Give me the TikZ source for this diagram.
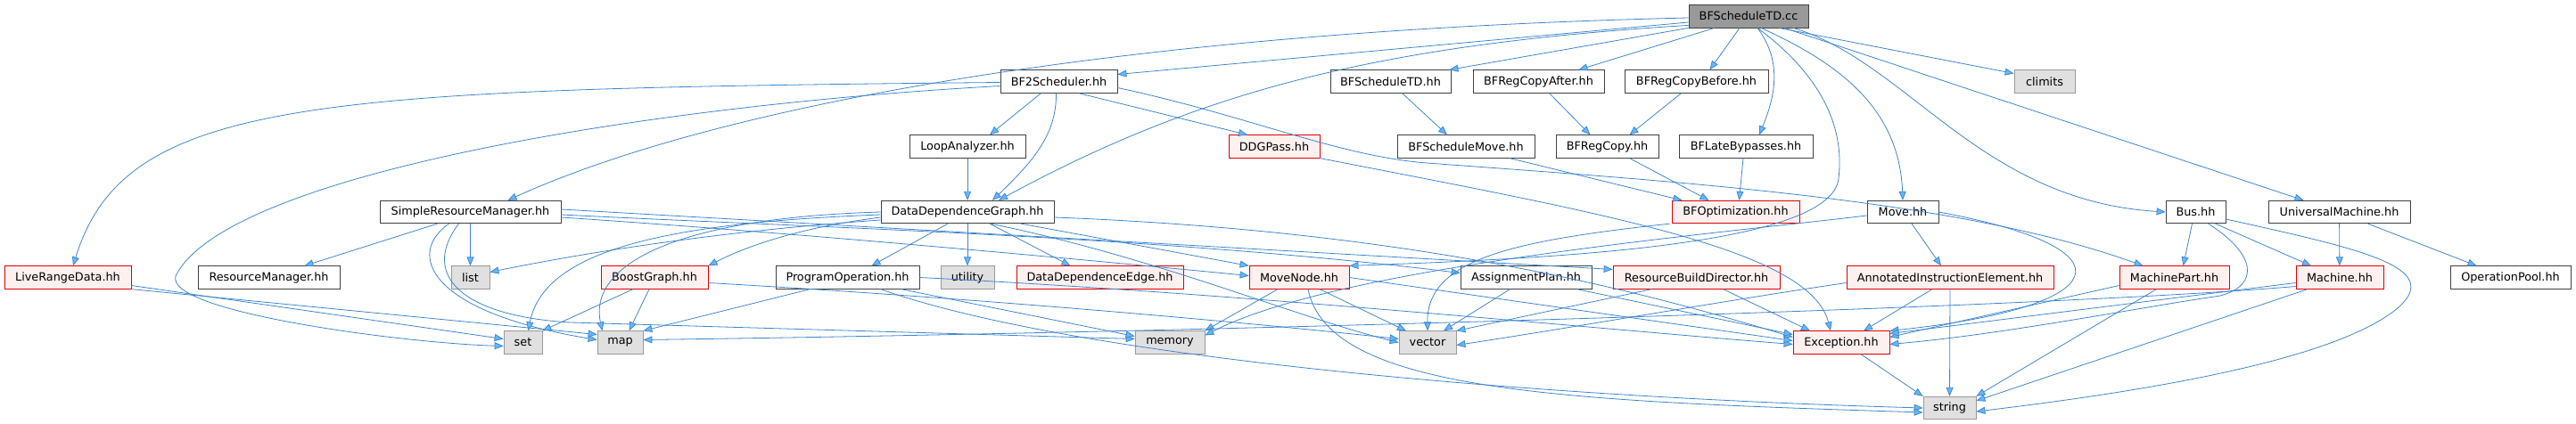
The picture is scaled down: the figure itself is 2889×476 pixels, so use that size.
\documentclass[tikz,border=0pt]{standalone}
\usepackage{fontspec}
\setmainfont{DejaVu Sans}
\usetikzlibrary{arrows.meta}
\definecolor{edgecol}{HTML}{3F86CC}
\definecolor{arrowfill}{HTML}{63B8FF}
\definecolor{ndborder}{HTML}{404040}
\definecolor{rootfill}{HTML}{999999}
\definecolor{sysfill}{HTML}{E0E0E0}
\definecolor{sysborder}{HTML}{999999}
\definecolor{redfill}{HTML}{FFF0F0}
\definecolor{redborder}{HTML}{E00000}
\newcommand\dvs{\fontsize{12.8}{15}\selectfont}
\tikzset{
  nd/.style={draw=ndborder, fill=white, line width=0.75pt, minimum height=25.5pt, inner sep=0pt, font=\dvs, text=black},
  rootn/.style={nd, fill=rootfill, draw=ndborder},
  sysn/.style={nd, fill=sysfill, draw=sysborder},
  redn/.style={nd, fill=redfill, draw=redborder},
  dep/.style={draw=edgecol, line width=0.8pt, -{Triangle[length=10pt,width=8pt,fill=arrowfill]}}
}
\begin{document}
\begin{tikzpicture}[x=1pt,y=-1pt]
\useasboundingbox (0,0) rectangle (2889,476);
% row 0
\node[rootn, minimum width=134pt, minimum height=26pt] (root) at (1961,18) {BFScheduleTD.cc};
% row 1
\node[nd, minimum width=131pt] (bf2) at (1187.5,91.5) {BF2Scheduler.hh};
\node[nd, minimum width=135pt] (bfstdh) at (1559.5,91.5) {BFScheduleTD.hh};
\node[nd, minimum width=147pt] (rcafter) at (1725.5,91.5) {BFRegCopyAfter.hh};
\node[nd, minimum width=161pt] (rcbefore) at (1902.5,91.5) {BFRegCopyBefore.hh};
\node[sysn, minimum width=68pt] (climits) at (2293,91.5) {climits};
% row 2
\node[nd, minimum width=130pt] (loop) at (1085,164.5) {LoopAnalyzer.hh};
\node[redn, minimum width=102pt] (ddgpass) at (1429,164.5) {DDGPass.hh};
\node[nd, minimum width=154pt] (bfsm) at (1644,164.5) {BFScheduleMove.hh};
\node[nd, minimum width=115pt] (regcopy) at (1802.5,164.5) {BFRegCopy.hh};
\node[nd, minimum width=150pt] (late) at (1958,164.5) {BFLateBypasses.hh};
% row 3
\node[nd, minimum width=203pt] (srm) at (527.5,238) {SimpleResourceManager.hh};
\node[nd, minimum width=194pt] (ddg) at (1085,238) {DataDependenceGraph.hh};
\node[redn, minimum width=143pt] (bfopt) at (1946.5,238) {BFOptimization.hh};
\node[nd, minimum width=80pt] (move) at (2134,238) {Move.hh};
\node[nd, minimum width=67pt] (bus) at (2462.5,238) {Bus.hh};
\node[nd, minimum width=159pt] (um) at (2623.5,238) {UniversalMachine.hh};
% row 4
\node[redn, minimum width=142pt] (lrd) at (76,311.5) {LiveRangeData.hh};
\node[nd, minimum width=159pt] (rm) at (301.5,311.5) {ResourceManager.hh};
\node[sysn, minimum width=43pt] (list) at (527.5,311.5) {list};
\node[redn, minimum width=120pt] (boost) at (734,311.5) {BoostGraph.hh};
\node[nd, minimum width=161pt] (progop) at (950.5,311.5) {ProgramOperation.hh};
\node[sysn, minimum width=60pt] (utility) at (1085,311.5) {utility};
\node[redn, minimum width=187pt] (dde) at (1233.5,311.5) {DataDependenceEdge.hh};
\node[redn, minimum width=112pt] (movenode) at (1457,311.5) {MoveNode.hh};
\node[nd, minimum width=147pt] (aplan) at (1711.5,311.5) {AssignmentPlan.hh};
\node[redn, minimum width=187pt] (rbd) at (1902.5,311.5) {ResourceBuildDirector.hh};
\node[redn, minimum width=232pt] (aie) at (2187,311.5) {AnnotatedInstructionElement.hh};
\node[redn, minimum width=123pt] (mpart) at (2438.5,311.5) {MachinePart.hh};
\node[redn, minimum width=98pt] (machine) at (2624,311.5) {Machine.hh};
\node[nd, minimum width=135pt] (oppool) at (2815.5,311.5) {OperationPool.hh};
% row 5
\node[sysn, minimum width=43pt] (set) at (586.5,384.5) {set};
\node[sysn, minimum width=51pt] (map) at (695.5,384.5) {map};
\node[sysn, minimum width=78pt] (memory) at (1312,384.5) {memory};
\node[sysn, minimum width=64pt] (vector) at (1601,384.5) {vector};
\node[redn, minimum width=108pt] (exception) at (2065,384.5) {Exception.hh};
% row 6
\node[sysn, minimum width=59pt] (string) at (2186.5,458) {string};

% ---- edges from root
\draw[dep] ([yshift=-7pt]root.west) -- ([yshift=8pt]bf2.east);
\draw[dep] (root.south west) -- ([xshift=-2pt]bfstdh.north east);
\draw[dep] ([xshift=-38pt]root.south) -- ([xshift=45pt]rcafter.north);
\draw[dep] ([xshift=-10pt]root.south) -- ([xshift=15pt]rcbefore.north);
\draw[dep] ([xshift=34pt]root.south) -- ([yshift=9pt]climits.west);
\draw[dep] ([xshift=10pt]root.south) .. controls (2000,70) and (1990,110) .. ([xshift=15pt]late.north);
\draw[dep] ([xshift=14pt]root.south) .. controls (2060,70) and (2130,120) .. (move.north);
\draw[dep] ([xshift=50pt]root.south) .. controls (2140,70) and (2220,225) .. (bus.west);
\draw[dep] ([xshift=40pt]root.south) -- ([xshift=-40pt]um.north);
\draw[dep] ([yshift=3pt]root.south west) .. controls (1550,50) and (1350,100) .. ([xshift=35pt]ddg.north);
\draw[dep] ([yshift=-2pt]root.west) .. controls (1250,35) and (800,120) .. ([xshift=42pt]srm.north);
\draw[dep] ([xshift=10pt]root.south) .. controls (2050,90) and (2068,150) .. (2062,200) .. controls (2055,275) and (1750,290) .. (movenode.north east);

% ---- BF2Scheduler
\draw[dep] ([xshift=-20pt]bf2.south) -- ([xshift=25pt]loop.north);
\draw[dep] ([xshift=-3pt]bf2.south) .. controls (1185,150) and (1160,180) .. ([xshift=28pt]ddg.north);
\draw[dep] ([xshift=22pt]bf2.south) -- ([xshift=-30pt]ddgpass.north);
\draw[dep] ([yshift=-7pt]bf2.east) .. controls (1400,130) and (1500,175) .. (1600,183) .. controls (1900,205) and (2200,225) .. ([xshift=-35pt]mpart.north);
\draw[dep] ([yshift=-1pt]bf2.west) .. controls (350,100) and (140,110) .. ([xshift=6pt]lrd.north);
\draw[dep] ([yshift=-5pt]bf2.west) .. controls (700,120) and (250,200) .. (197,310) .. controls (185,350) and (450,385) .. ([yshift=-4pt]set.west);

% ---- second level
\draw[dep] ([xshift=13pt]bfstdh.south) -- ([xshift=-21pt]bfsm.north);
\draw[dep] ([xshift=12pt]rcafter.south) -- ([xshift=-19pt]regcopy.north);
\draw[dep] ([xshift=-17pt]rcbefore.south) -- ([xshift=25pt]regcopy.north);
\draw[dep] ([xshift=49pt]bfsm.south) -- ([xshift=-60pt]bfopt.north);
\draw[dep] ([xshift=25pt]regcopy.south) -- ([xshift=-30pt]bfopt.north);
\draw[dep] ([xshift=-3pt]late.south) -- ([xshift=4pt]bfopt.north);
\draw[dep] (loop) -- (ddg);
\draw[dep] (ddgpass.south east) .. controls (1800,240) and (2030,280) .. ([xshift=-12pt]exception.north);

% ---- SimpleResourceManager
\draw[dep] ([xshift=-37pt]srm.south) -- ([xshift=40pt]rm.north);
\draw[dep] (srm.south) -- (list.north);
\draw[dep] ([xshift=-24pt]srm.south) .. controls (455,285) and (480,350) .. ([yshift=3pt]map.west);
\draw[dep] ([xshift=-13pt]srm.south) .. controls (470,310) and (520,355) .. (640,362) -- ([yshift=4pt]memory.west);
\draw[dep] ([yshift=-3pt]srm.east) .. controls (900,255) and (1300,265) .. ([yshift=5pt]aplan.west);
\draw[dep] ([yshift=3pt]srm.east) -- ([yshift=9pt]rbd.west);
\draw[dep] ([yshift=-6pt]srm.east) .. controls (900,262) and (1200,290) .. ([yshift=2pt]movenode.west);

% ---- DataDependenceGraph
\draw[dep] ([xshift=-22pt]ddg.south) -- ([xshift=27pt]progop.north);
\draw[dep] (ddg) -- (utility);
\draw[dep] ([xshift=25pt]ddg.south) -- ([xshift=-33pt]dde.north);
\draw[dep] ([xshift=60pt]ddg.south) -- (movenode.north west);
\draw[dep] ([xshift=26pt]ddg.south) .. controls (1300,290) and (1450,355) .. (vector.west);
\draw[dep] ([yshift=-6pt]ddg.west) .. controls (900,255) and (840,275) .. (boost.north east);
\draw[dep] ([yshift=-9pt]ddg.west) .. controls (800,260) and (650,285) .. ([yshift=6pt]list.east);
\draw[dep] ([yshift=-3pt]ddg.west) .. controls (750,250) and (610,280) .. ([xshift=6pt]set.north);
\draw[dep] (ddg.west) .. controls (750,245) and (660,300) .. ([xshift=-20pt]map.north);
\draw[dep] ([yshift=-6pt]ddg.east) .. controls (1600,260) and (1850,330) .. ([yshift=6pt]exception.west);

% ---- LiveRangeData, BoostGraph, ProgramOperation
\draw[dep] ([yshift=-9pt]lrd.east) -- ([yshift=4pt]set.west);
\draw[dep] (lrd.south east) -- ([yshift=9pt]map.west);
\draw[dep] ([xshift=-24pt]boost.south) -- (set.north east);
\draw[dep] ([xshift=-6pt]boost.south) -- ([xshift=10pt]map.north);
\draw[dep] ([yshift=-6pt]boost.east) .. controls (1100,335) and (1400,362) .. ([yshift=4pt]vector.west);
\draw[dep] ([xshift=-42pt]progop.south) -- (map.north east);
\draw[dep] ([xshift=60pt]progop.south) -- ([yshift=7pt]memory.west);
\draw[dep] ([xshift=37pt]progop.south) .. controls (1200,400) and (1700,445) .. (string.west);
\draw[dep] (progop.east) .. controls (1400,330) and (1800,370) .. ([yshift=-2pt]exception.west);

% ---- MoveNode, AssignmentPlan, ResourceBuildDirector, BFOptimization
\draw[dep] ([xshift=-24pt]movenode.south) -- (memory.north east);
\draw[dep] ([xshift=23pt]movenode.south) -- ([xshift=-24pt]vector.north);
\draw[dep] ([xshift=10pt]movenode.south) .. controls (1490,440) and (1750,450) .. ([yshift=-5pt]string.west);
\draw[dep] (movenode.east) -- ([yshift=2pt]exception.west);
\draw[dep] ([xshift=-18pt]aplan.south) -- ([xshift=18pt]vector.north);
\draw[dep] ([xshift=57pt]aplan.south) -- ([yshift=9pt]exception.west);
\draw[dep] ([xshift=-50pt]rbd.south) -- (vector.north east);
\draw[dep] ([xshift=30pt]rbd.south) -- ([xshift=-35pt]exception.north);
\draw[dep] ([xshift=-2pt]bfopt.south west) .. controls (1700,270) and (1600,290) .. (vector.north);

% ---- Move, AnnotatedInstructionElement
\draw[dep] ([xshift=10pt]move.south) -- ([xshift=-10pt]aie.north);
\draw[dep] (move.east) .. controls (2400,280) and (2370,345) .. (exception.north east);
\draw[dep] ([yshift=-4pt]move.west) .. controls (1900,265) and (1500,300) .. ([yshift=8pt]memory.east);
\draw[dep] ([xshift=-20pt]aie.south) -- ([xshift=25pt]exception.north);
\draw[dep] (aie.south) -- (string.north);
\draw[dep] ([yshift=-6pt]aie.west) .. controls (1950,335) and (1750,370) .. ([yshift=-3pt]vector.east);

% ---- MachinePart, Bus, UniversalMachine, Machine
\draw[dep] ([yshift=-9pt]mpart.west) -- ([yshift=6pt]exception.east);
\draw[dep] ([xshift=-20pt]mpart.south) -- (string.north east);
\draw[dep] ([xshift=-4pt]bus.south) -- ([xshift=10pt]mpart.north);
\draw[dep] ([xshift=22pt]bus.south) -- ([xshift=-32pt]machine.north);
\draw[dep] ([xshift=14pt]bus.south) .. controls (2530,285) and (2535,320) .. (2490,332) .. controls (2400,345) and (2250,375) .. ([yshift=-2pt]exception.east);
\draw[dep] ([yshift=-8pt]bus.east) .. controls (2650,280) and (2740,300) .. (2690,345) .. controls (2620,405) and (2400,440) .. ([yshift=-4pt]string.east);
\draw[dep] (um) -- (machine);
\draw[dep] ([xshift=32pt]um.south) -- ([xshift=-38pt]oppool.north);
\draw[dep] ([yshift=-6pt]machine.west) -- ([yshift=10pt]exception.east);
\draw[dep] ([xshift=-36pt]machine.south) -- ([yshift=8pt]string.east);
\draw[dep] ([yshift=-10pt]machine.west) .. controls (2300,345) and (1400,372) .. ([yshift=3pt]map.east);
\draw[dep] ([xshift=22pt]exception.south) -- (string.north west);
\end{tikzpicture}
\end{document}
